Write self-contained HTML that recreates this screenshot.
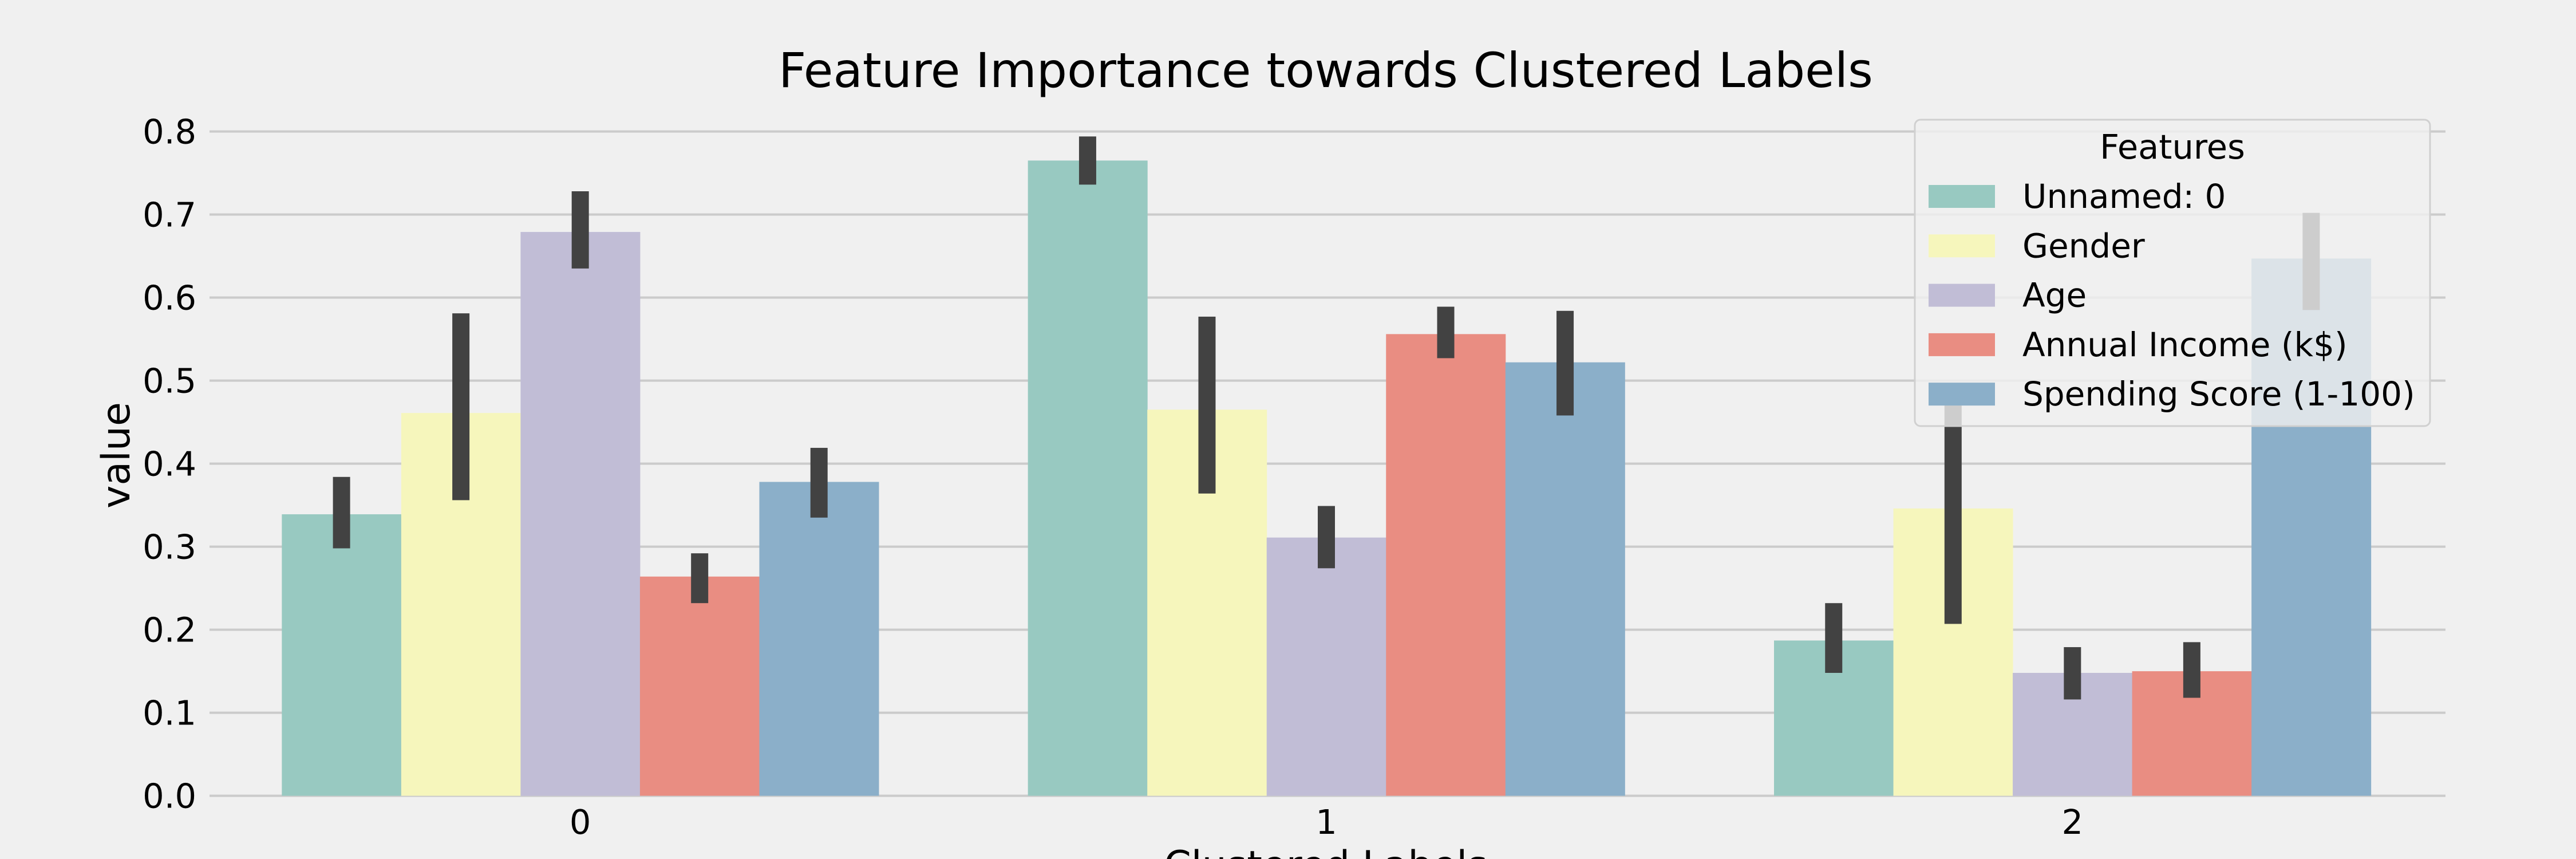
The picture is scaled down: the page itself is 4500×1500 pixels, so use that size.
<!DOCTYPE html>
<html><head><meta charset="utf-8"><style>
html,body{margin:0;padding:0;background:#f0f0f0;}
svg{display:block;font-family:"DejaVu Sans","Liberation Sans",sans-serif;}
</style></head><body>
<svg id="chart" width="4500" height="1500" viewBox="0 0 4500 1500">
<rect x="0" y="0" width="4500" height="1500" fill="#f0f0f0"/>
<g id="grid"></g><g id="bars"></g><g id="errs"></g><g id="ticks"></g>
<text x="2316" y="152" font-size="84" text-anchor="middle" fill="#000">Feature Importance towards Clustered Labels</text>
<text transform="translate(226,795) rotate(-90)" font-size="68" text-anchor="middle" fill="#000">value</text>
<text x="2316" y="1534" font-size="68" text-anchor="middle" fill="#000">Clustered Labels</text>
<g id="legend"></g>
</svg>
<script>
const categories = ["0", "1", "2"];
const features = ["Unnamed: 0", "Gender", "Age", "Annual Income (k$)", "Spending Score (1-100)"];
const colors = ["#98c9c1", "#f6f6bc", "#c1bdd6", "#e98d82", "#8bafc9"];
const values = [
  [0.339, 0.461, 0.679, 0.264, 0.378],
  [0.765, 0.465, 0.311, 0.556, 0.522],
  [0.187, 0.346, 0.148, 0.150, 0.647]
];
const errLow = [
  [0.298, 0.356, 0.635, 0.232, 0.335],
  [0.736, 0.364, 0.274, 0.527, 0.458],
  [0.148, 0.207, 0.116, 0.118, 0.585]
];
const errHigh = [
  [0.384, 0.581, 0.728, 0.292, 0.419],
  [0.794, 0.577, 0.349, 0.589, 0.584],
  [0.232, 0.470, 0.179, 0.185, 0.702]
];
const yTicks = [0.0, 0.1, 0.2, 0.3, 0.4, 0.5, 0.6, 0.7, 0.8];
const yTickLabels = ["0.0", "0.1", "0.2", "0.3", "0.4", "0.5", "0.6", "0.7", "0.8"];

const NS = "http://www.w3.org/2000/svg";
const L = 362, R = 4272, Y0 = 1389.6, PX = 1450;
const step = (R - L) / categories.length;
const bw = step * 0.8 / features.length;
function y(v){ return Y0 - v * PX; }
function xc(i){ return L + step * (i + 0.5); }
function mk(tag, attrs, parent){ const e = document.createElementNS(NS, tag); for (const k in attrs) e.setAttribute(k, attrs[k]); parent.appendChild(e); return e; }

const grid = document.getElementById("grid"), ticks = document.getElementById("ticks");
yTicks.forEach((t, i) => {
  const g = mk("line", {x1: 366, x2: R, y1: y(t), y2: y(t), stroke: "#cbcbcb", "stroke-width": 4}, grid);
  
  
  const tx = mk("text", {x: 343, y: y(t) + 21, "font-size": 59, "text-anchor": "end", fill: "#000"}, ticks);
  tx.textContent = yTickLabels[i];
  
  
});
categories.forEach((c, i) => {
  const tx = mk("text", {x: xc(i), y: 1456, "font-size": 59, "text-anchor": "middle", fill: "#000"}, ticks);
  tx.textContent = c;
  
  
});
const bars = document.getElementById("bars"), errs = document.getElementById("errs");
categories.forEach((c, i) => {
  features.forEach((f, j) => {
    const x0 = xc(i) - step * 0.4 + j * bw;
    const b = mk("rect", {x: x0, y: y(values[i][j]), width: bw + 0.5, height: Y0 - y(values[i][j]), fill: colors[j]}, bars);
    
    
    const e = mk("rect", {x: x0 + bw / 2 - 15, y: y(errHigh[i][j]), width: 30, height: y(errLow[i][j]) - y(errHigh[i][j]), fill: "#424242"}, errs);
    
    
  });
});
const lg = document.getElementById("legend");
const box = mk("rect", {x: 3345, y: 209, width: 900, height: 535, rx: 10, fill: "#f0f0f0", "fill-opacity": 0.8, stroke: "#d0d0d0", "stroke-width": 3}, lg);


const lt = mk("text", {x: 3795, y: 277, "font-size": 59, "text-anchor": "middle", fill: "#000"}, lg);
lt.textContent = "Features";


features.forEach((f, j) => {
  const by = 363 + j * 86.3;
  const p = mk("rect", {x: 3369, y: by - 40, width: 116, height: 40, fill: colors[j]}, lg);
  
  
  const t = mk("text", {x: 3533, y: by, "font-size": 58, fill: "#000"}, lg);
  t.textContent = f;
  
  
});
</script>
</body></html>
